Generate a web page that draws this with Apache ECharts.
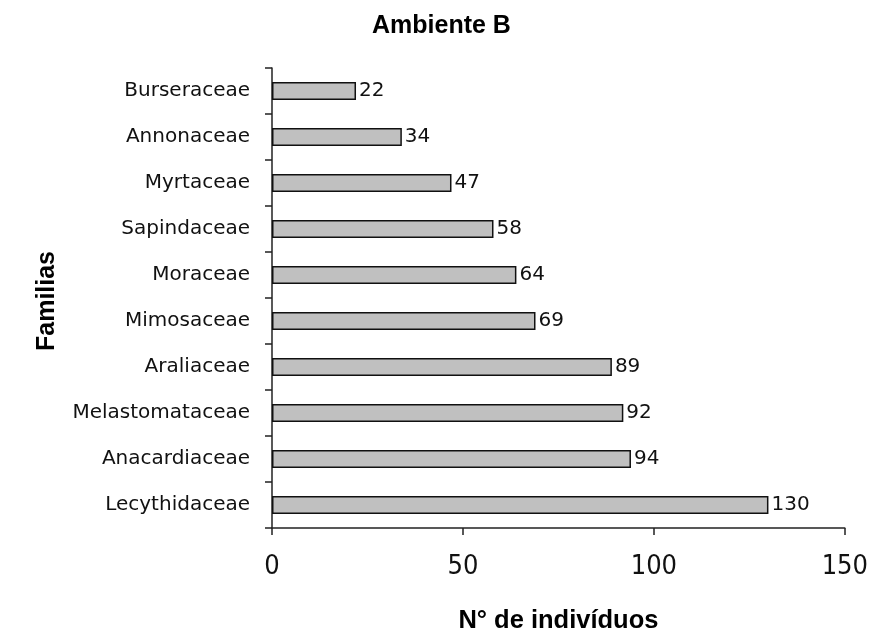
<!DOCTYPE html>
<html>
<head>
<meta charset="utf-8">
<script src="https://cdn.jsdelivr.net/npm/echarts@6/dist/echarts.min.js"></script>
<style>
  html, body { margin: 0; padding: 0; background: #fff; }
  #chart { width: 871px; height: 639px; }
</style>
</head>
<body>
<div id="chart"></div>
<script>
// Families (top to bottom) and number of individuals
const familias = ['Burseraceae', 'Annonaceae', 'Myrtaceae', 'Sapindaceae', 'Moraceae',
  'Mimosaceae', 'Araliaceae', 'Melastomataceae', 'Anacardiaceae', 'Lecythidaceae'];
const individuos = [22, 34, 47, 58, 64, 69, 89, 92, 94, 130];
const xTicks = [0, 50, 100, 150];

const chart = echarts.init(document.getElementById('chart'), null, { renderer: 'canvas' });
const boldFont = '"Liberation Sans", Arial, sans-serif';
const labelFont = '"DejaVu Sans", Verdana, sans-serif';

chart.setOption({
  animation: false,
  backgroundColor: '#ffffff',
  title: {
    text: 'Ambiente B',
    left: 367,
    top: 9,
    textStyle: { fontFamily: boldFont, fontSize: 25, fontWeight: 'bold', color: '#000' }
  },
  grid: { left: 272, right: 26, top: 68, bottom: 109, containLabel: false },
  xAxis: {
    type: 'value',
    min: xTicks[0],
    max: xTicks[xTicks.length - 1],
    interval: xTicks[1] - xTicks[0],
    name: 'N° de indivíduos',
    nameLocation: 'middle',
    nameGap: 80,
    nameTextStyle: { fontFamily: boldFont, fontSize: 25.5, fontWeight: 'bold', color: '#000' },
    axisLine: { show: true, lineStyle: { color: '#222', width: 1.5 } },
    axisTick: { show: true, length: 7, lineStyle: { color: '#222', width: 1.5 } },
    splitLine: { show: false },
    axisLabel: {
      margin: 25,
      fontFamily: '"DejaVu Sans Condensed", "Liberation Sans Narrow", sans-serif',
      fontSize: 27,
      color: '#111'
    }
  },
  yAxis: {
    type: 'category',
    inverse: true,
    data: familias,
    name: 'Familias',
    nameLocation: 'middle',
    nameGap: 212,
    nameTextStyle: { fontFamily: boldFont, fontSize: 25, fontWeight: 'bold', color: '#000', padding: [0, 6, 0, 0] },
    axisLine: { show: true, lineStyle: { color: '#222', width: 1.5 } },
    axisTick: { show: true, length: 7, lineStyle: { color: '#222', width: 1.5 } },
    axisLabel: {
      margin: 22,
      fontFamily: labelFont,
      fontSize: 20,
      color: '#111'
    }
  },
  series: [{
    type: 'bar',
    data: individuos,
    barWidth: 18,
    itemStyle: { color: '#c0c0c0', borderColor: '#111', borderWidth: 1.5 },
    label: {
      show: true,
      position: 'right',
      distance: 3,
      fontFamily: labelFont,
      fontSize: 20,
      color: '#111'
    }
  }]
});
</script>
</body>
</html>
